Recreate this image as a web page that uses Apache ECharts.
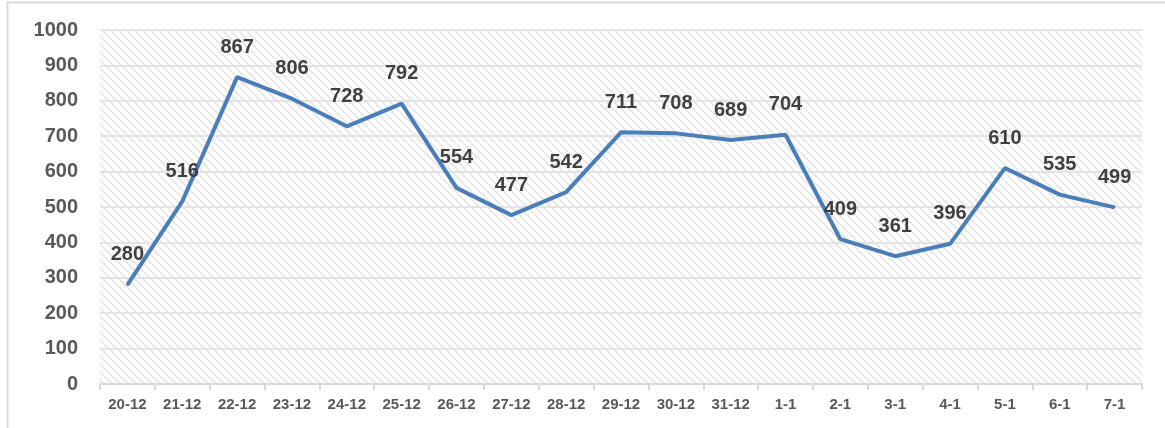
<!DOCTYPE html>
<html lang="en">
<head>
    <meta charset="UTF-8">
    <title>Line chart</title>
    <style>
        html, body {
            margin: 0;
            height: 100%;
            width: 100%;
            background: #fff;
        }
        .myEcharts {
            width: 1165px;
            height: 428px;
        }
    </style>
</head>
<body>
    <div id="main" class="myEcharts"></div>
    <script src="https://cdn.jsdelivr.net/npm/echarts@6/dist/echarts.min.js"></script>
    <script>
        var days = ['20-12', '21-12', '22-12', '23-12', '24-12', '25-12', '26-12', '27-12', '28-12', '29-12',
            '30-12', '31-12', '1-1', '2-1', '3-1', '4-1', '5-1', '6-1', '7-1'];
        var values = [280, 516, 867, 806, 728, 792, 554, 477, 542, 711, 708, 689, 704, 409, 361, 396, 610, 535, 499];

        // diagonal hatch for the plot background
        var tile = document.createElement('canvas');
        tile.width = 8;
        tile.height = 8;
        var ctx = tile.getContext('2d');
        ctx.fillStyle = '#ffffff';
        ctx.fillRect(0, 0, 8, 8);
        ctx.strokeStyle = '#e6e6e6';
        ctx.lineWidth = 1.8;
        ctx.beginPath();
        ctx.moveTo(-1, -1); ctx.lineTo(9, 9);
        ctx.moveTo(-5, 3); ctx.lineTo(5, 13);
        ctx.moveTo(3, -5); ctx.lineTo(13, 5);
        ctx.stroke();

        var myCharts = echarts.init(document.getElementById('main'));
        var font = '"Liberation Sans", Arial, sans-serif';
        var option = {
            animation: false,
            graphic: [{
                type: 'rect',
                shape: { x: 7.5, y: 2.5, width: 1200, height: 500 },
                style: { fill: 'none', stroke: '#d9d9d9', lineWidth: 2 }
            }],
            grid: {
                left: 100,
                right: 23,
                top: 30,
                bottom: 44,
                show: true,
                borderWidth: 0,
                backgroundColor: { image: tile, repeat: 'repeat' }
            },
            xAxis: {
                type: 'category',
                data: days,
                boundaryGap: true,
                axisLine: { lineStyle: { color: '#d9d9d9', width: 2 } },
                axisTick: { show: true, length: 6, lineStyle: { color: '#d9d9d9', width: 2 } },
                axisLabel: {
                    color: '#595959',
                    fontFamily: font,
                    fontWeight: 'bold',
                    fontSize: 15,
                    margin: 13
                }
            },
            yAxis: {
                type: 'value',
                min: 0,
                max: 1000,
                interval: 100,
                axisLine: { show: false },
                axisTick: { show: false },
                splitLine: { lineStyle: { color: '#e3e3e3', width: 2 } },
                axisLabel: {
                    color: '#595959',
                    fontFamily: font,
                    fontWeight: 'bold',
                    fontSize: 20,
                    margin: 22,
                    formatter: function (v) { return String(v); }
                }
            },
            series: [{
                type: 'line',
                data: values,
                symbol: 'circle',
                symbolSize: 2,
                showSymbol: true,
                itemStyle: { color: '#4a7ebb', borderWidth: 0 },
                lineStyle: { color: '#4a7ebb', width: 4 },
                label: {
                    show: true,
                    position: 'top',
                    distance: 19,
                    color: '#404040',
                    fontFamily: font,
                    fontWeight: 'bold',
                    fontSize: 20
                }
            }]
        };
        myCharts.setOption(option);
    </script>
</body>
</html>
